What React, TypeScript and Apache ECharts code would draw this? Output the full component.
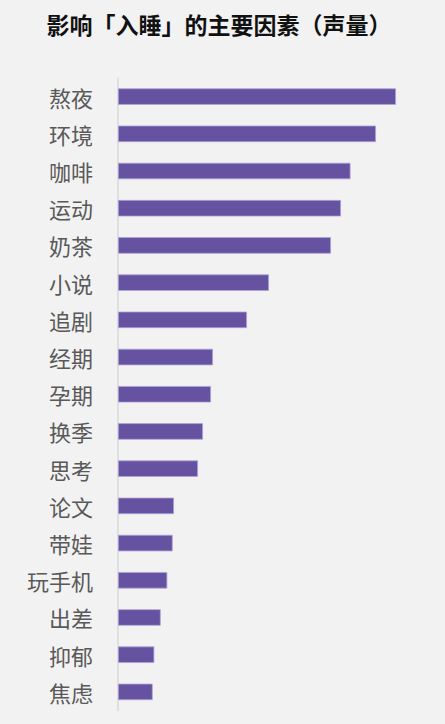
import React, { useEffect, useRef } from "react";
import * as echarts from "echarts";

const categories = ["熬夜", "环境", "咖啡", "运动", "奶茶", "小说", "追剧", "经期", "孕期", "换季", "思考", "论文", "带娃", "玩手机", "出差", "抑郁", "焦虑"];
const values = [278, 258, 232.5, 223, 213, 151, 129, 95, 93, 85, 80, 56, 54.7, 49.3, 42.7, 36.3, 34.7];
const titleText = "影响「入睡」的主要因素（声量）";

export default function App() {
  const ref = useRef<HTMLDivElement>(null);
  useEffect(() => {
    document.body.style.margin = "0";
    const chart = echarts.init(ref.current!, null, { renderer: "svg" });
    chart.setOption({
      animation: false,
      backgroundColor: "#f2f2f2",
      title: {
        text: titleText,
        left: 214,
        textAlign: "center",
        top: 7,
        textStyle: { fontSize: 23, fontWeight: "bold", color: "#111", fontFamily: "Noto Sans CJK SC" },
      },
      grid: { left: 118, right: 49, top: 78, bottom: 724 - 710.5, containLabel: false },
      xAxis: {
        type: "value",
        min: 0,
        max: 278,
        show: false,
      },
      yAxis: {
        type: "category",
        data: categories,
        inverse: true,
        axisLine: { show: true, lineStyle: { color: "#d9d9d9", width: 1.5 } },
        axisTick: { show: false },
        axisLabel: { fontSize: 22, color: "#595959", margin: 25, fontFamily: "Noto Sans CJK SC" },
      },
      series: [
        {
          type: "bar",
          data: values,
          barWidth: 16.5,
          itemStyle: { color: "#6552a0", borderColor: "#b0a3d6", borderWidth: 0.8 },
        },
      ],
    });
    return () => chart.dispose();
  }, []);
  return <div ref={ref} style={{ position: "absolute", left: 0, top: 0, width: 445, height: 724 }} />;
}
